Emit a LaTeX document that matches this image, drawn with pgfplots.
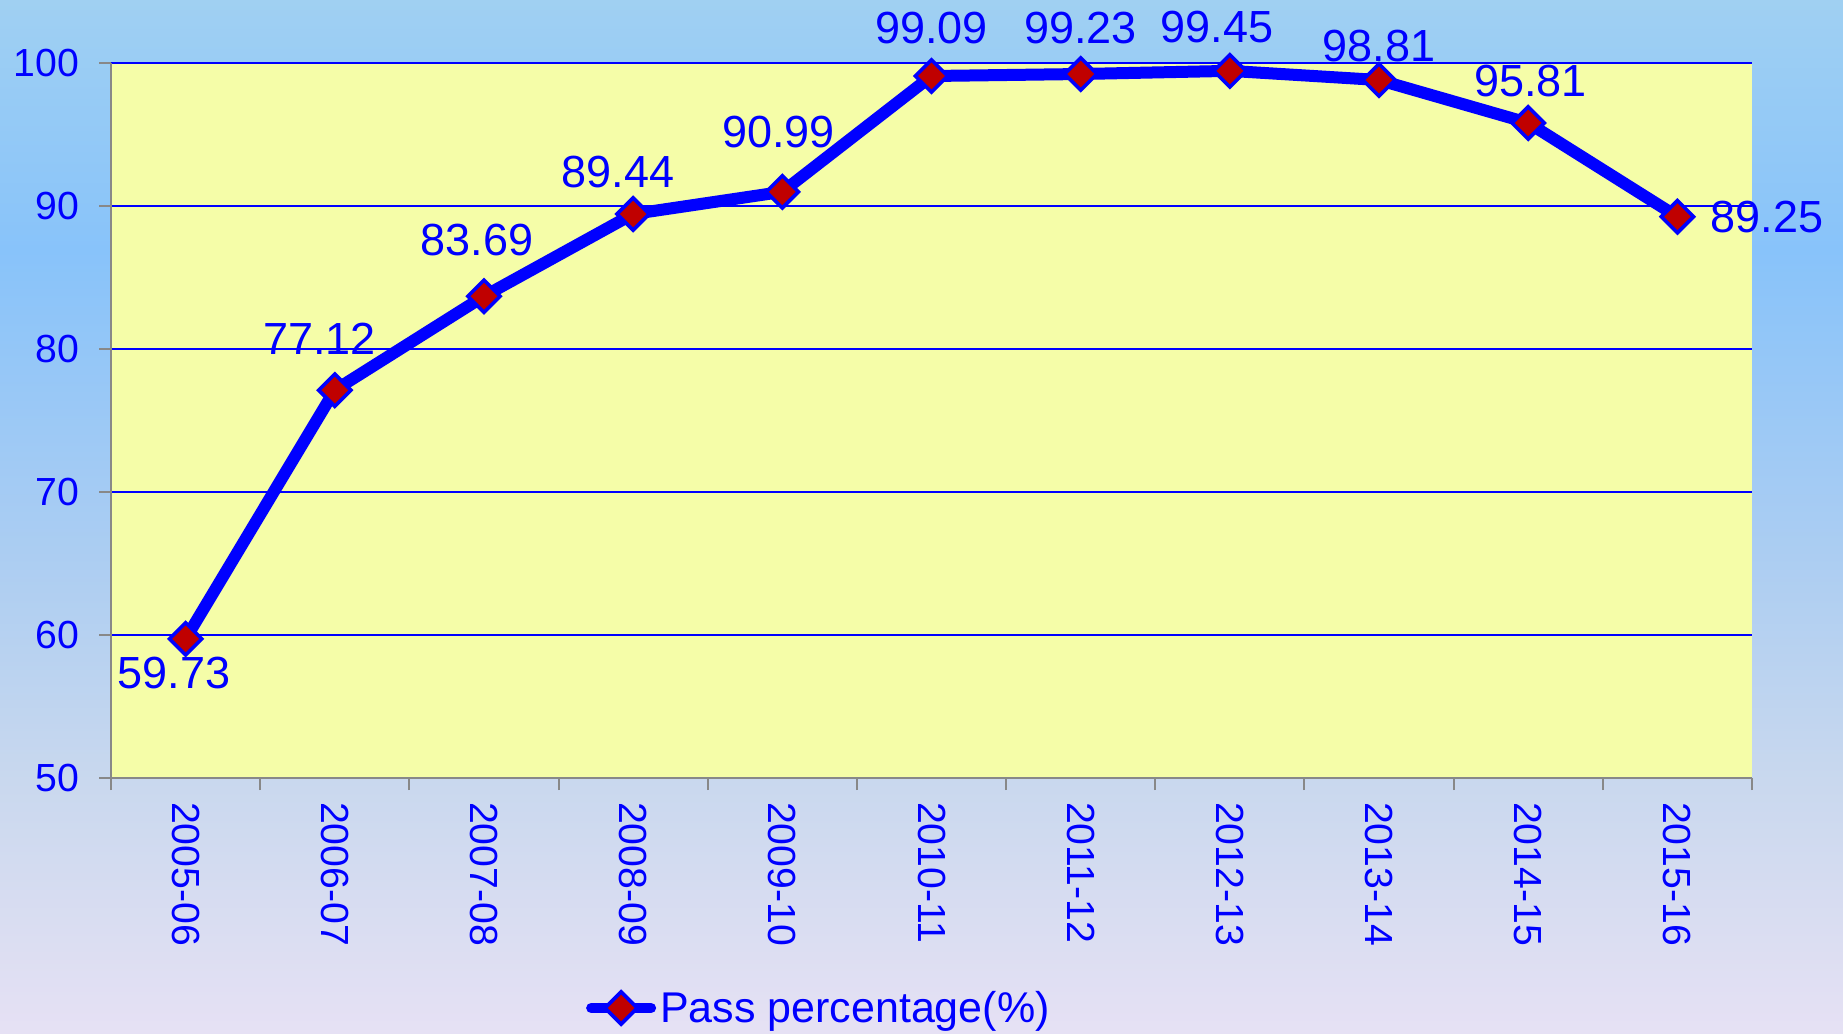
\documentclass[border=0pt]{standalone}
\usepackage{pgfplots}
\pgfplotsset{compat=1.18}
\usepackage{pgfplotstable}
\usepackage{fontspec}
\setmainfont{Liberation Sans}
\definecolor{bgA}{HTML}{E6E1F4}
\definecolor{bgB}{HTML}{C9D8EE}
\definecolor{bgC}{HTML}{ABCDF2}
\definecolor{bgD}{HTML}{88C3FA}
\definecolor{bgE}{HTML}{A0D0F2}
\definecolor{plotyellow}{HTML}{F5FDA8}
\definecolor{markred}{HTML}{C00000}
\definecolor{axisgray}{HTML}{888888}
\pgfdeclareverticalshading{bgshade}{100bp}{color(0bp)=(bgA); color(25bp)=(bgA); color(37.25bp)=(bgB); color(48.4bp)=(bgC); color(62.9bp)=(bgD); color(75bp)=(bgE); color(100bp)=(bgE)}

\pgfplotstableread{
x y dx dy lab
0 59.73 -5.9 -17 59.73
1 77.12 -7.6 25.9 77.12
2 83.69 -3.5 28.2 83.69
3 89.44 -7.6 21.2 89.44
4 90.99 -1.8 30 90.99
5 99.09 0 24 99.09
6 99.23 0 23 99.23
7 99.45 -6.5 21.7 99.45
8 98.81 0 17 98.81
9 95.81 1.2 21 95.81
10 89.25 44.7 0 89.25
}\datatable

\begin{document}
\begin{tikzpicture}
\useasboundingbox (0,0) rectangle (921.5pt,517pt);
\shade[shading=bgshade] (0,0) rectangle (921.5pt,517pt);
\begin{axis}[
  at={(55.5pt,128pt)}, anchor=south west,
  scale only axis, width=820.5pt, height=357.5pt,
  xmin=-0.5, xmax=10.5, ymin=50, ymax=100,
  xtick={0,...,10},
  xticklabels={2005-06,2006-07,2007-08,2008-09,2009-10,2010-11,2011-12,2012-13,2013-14,2014-15,2015-16},
  minor xtick={-0.5,0.5,...,10.5},
  major x tick style={draw=none},
  minor x tick style={axisgray, line width=1pt},
  major y tick style={axisgray, line width=1pt},
  ytick={50,60,...,100},
  tick align=outside,
  major tick length=6pt, minor tick length=6pt,
  ymajorgrids, grid style={blue, line width=0.7pt},
  axis x line*=bottom, axis y line*=left,
  axis line style={axisgray, line width=1pt, -},
  axis background/.style={fill=plotyellow},
  clip=false,
  /pgf/number format/assume math mode=true,
  ticklabel style={text=blue, font=\fontsize{19.6}{22}\selectfont},
  yticklabel style={xshift=-6.5pt},
  xticklabel style={rotate=-90, anchor=west, xshift=2.5pt},
  legend style={at={(0.432,-0.3217)}, anchor=center, draw=none, fill=none,
    font=\fontsize{21.5}{24}\selectfont, text=blue},
  legend image code/.code={\draw[mark repeat=2,mark phase=2,#1, line cap=round, line width=5pt] plot coordinates {(0pt,0pt) (15pt,0pt) (30pt,0pt)};},
]
\addplot[blue, line width=6pt, mark=square*,
  mark options={rotate=45, fill=markred, draw=blue, line width=1.8pt, mark size=5.7pt},
  point meta=explicit symbolic,
  visualization depends on={\thisrow{dx} \as \dx},
  visualization depends on={\thisrow{dy} \as \dy},
  nodes near coords,
  nodes near coords style={anchor=center, xshift=\dx pt, yshift=\dy pt, text=blue, font=\fontsize{22.5}{25}\selectfont},
] table[x=x, y=y, meta=lab] {\datatable};
\addlegendentry{Pass percentage(\%)}
\end{axis}
\end{tikzpicture}
\end{document}
